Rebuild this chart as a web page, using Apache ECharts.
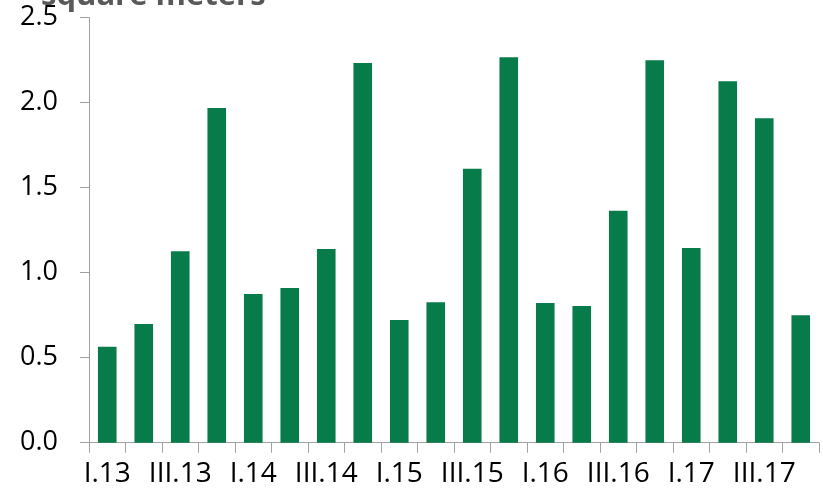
<!DOCTYPE html>
<html>
<head>
<meta charset="utf-8">
<script src="https://cdn.jsdelivr.net/npm/echarts@6/dist/echarts.min.js"></script>
<style>
html,body{margin:0;padding:0;background:#fff;}
#chart{width:823px;height:490px;}
</style>
</head>
<body>
<div id="chart"></div>
<script>
var categories = ['I.13','II.13','III.13','IV.13','I.14','II.14','III.14','IV.14','I.15','II.15','III.15','IV.15','I.16','II.16','III.16','IV.16','I.17','II.17','III.17','IV.17'];
var values = [0.565,0.698,1.126,1.969,0.875,0.91,1.139,2.234,0.722,0.826,1.612,2.267,0.822,0.804,1.365,2.249,1.145,2.126,1.908,0.749];
var yTicks = [0, 0.5, 1.0, 1.5, 2.0, 2.5];
var titleText = 'square meters';

var chart = echarts.init(document.getElementById('chart'), null, {renderer:'canvas'});
var font = 'Open Sans';
chart.setOption({
  animation: false,
  backgroundColor: '#ffffff',
  title: {
    text: titleText,
    left: 41,
    top: -19,
    padding: 0,
    textStyle: {fontFamily: font, fontSize: 31, fontWeight: 'bold', color: '#595959'}
  },
  grid: {left: 89, right: 4, top: 17.7, bottom: 47.3, containLabel: false},
  xAxis: {
    type: 'category',
    data: categories,
    boundaryGap: true,
    axisLine: {show: true, lineStyle: {color: '#a0a0a0', width: 1}},
    axisTick: {show: true, interval: 0, length: 10, lineStyle: {color: '#a0a0a0'}},
    axisLabel: {interval: 1, margin: 17, fontFamily: font, fontSize: 28, color: '#000'},
    splitLine: {show: false}
  },
  yAxis: {
    type: 'value',
    min: yTicks[0],
    max: yTicks[yTicks.length-1],
    interval: 0.5,
    axisLine: {show: true, lineStyle: {color: '#a0a0a0', width: 1}},
    axisTick: {show: true, length: 9, lineStyle: {color: '#a0a0a0'}},
    axisLabel: {margin: 31, fontFamily: font, fontSize: 27, color: '#000',
      formatter: function(v){ return v.toFixed(1); }},
    splitLine: {show: false}
  },
  series: [{
    type: 'bar',
    data: values,
    barCategoryGap: '49%',
    itemStyle: {color: '#077c4a'}
  }]
});
</script>
</body>
</html>
